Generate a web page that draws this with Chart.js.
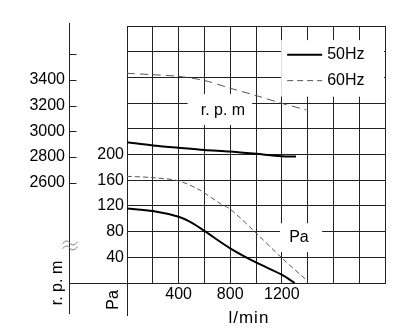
<!DOCTYPE html>
<html><head><meta charset="utf-8">
<script src="https://cdn.jsdelivr.net/npm/chart.js@4.4.0/dist/chart.umd.min.js"></script>
<style>html,body{margin:0;padding:0;background:#fff;}#wrap{width:400px;height:336px;position:relative;}canvas{display:block;}</style>
</head><body><div id="wrap"><canvas id="c" width="400" height="336" style="width:400px;height:336px"></canvas></div>
<script>
// ---- data ----
const flowTicks = [0,200,400,600,800,1000,1200,1400,1600,1800,2000];
const flowLabels = [400,800,1200];
const paTicks = [0,40,80,120,160,200,240,280,320,360,400];
const paLabels = [40,80,120,160,200];
const rpmTicks = [2600,2800,3000,3200,3400,3600];
const rpmLabels = [2600,2800,3000,3200,3400];
const seriesNames = ['50Hz','60Hz'];

const paFlow50 = [0,200,400,500,600,800,1000,1200,1300];
const pa50     = [116,112,103,94,81,54,32,13,0];
const paFlow60 = [0,200,400,560,720,800,1000,1200,1400];
const pa60     = [166,164,159,145,124,115,78,39,3];
const rpmFlow50 = [0,200,400,600,800,1000,1200,1310];
const rpm50     = [2915,2890,2872,2855,2843,2825,2806,2804];
const rpmFlow60 = [0,200,400,600,800,1000,1200,1390];
const rpm60     = [3452,3441,3428,3396,3336,3279,3218,3167];

const FONT = '"Liberation Sans", Arial, sans-serif';
const pts = (xs, ys) => xs.map((x,i)=>({x:x, y:ys[i]}));

const deco = {
  id:'deco',
  beforeDatasetsDraw(chart){
    const ctx = chart.ctx, xs = chart.scales.x, ys = chart.scales.pa, ca = chart.chartArea;
    ctx.save();
    ctx.fillStyle = '#fff';
    const lx = xs.getPixelForValue(1195), ly = ys.getPixelForValue(378), lb = ys.getPixelForValue(290);
    ctx.fillRect(lx, ly, ca.right - 1 - lx, lb - ly);
    const rx0 = xs.getPixelForValue(470), rx1 = xs.getPixelForValue(970);
    const ry0 = ys.getPixelForValue(294), ry1 = ys.getPixelForValue(246);
    ctx.fillRect(rx0, ry0, rx1-rx0, ry1-ry0);
    const px0 = xs.getPixelForValue(1186), px1 = xs.getPixelForValue(1512);
    const py0 = ys.getPixelForValue(93), py1 = ys.getPixelForValue(48);
    ctx.fillRect(px0, py0, px1-px0, py1-py0);
    ctx.restore();
  },
  afterDatasetsDraw(chart){
    const ctx = chart.ctx, xs = chart.scales.x, ys = chart.scales.pa, rs = chart.scales.rpm, ca = chart.chartArea;
    ctx.save();
    ctx.strokeStyle = '#222'; ctx.lineWidth = 1;
    const ax = Math.round(rs.right) + 0.5;
    const pl = Math.round(ca.left) + 0.5;
    const bt = Math.round(ca.bottom) + 0.5;
    ctx.beginPath();
    ctx.moveTo(ax, ca.top - 3); ctx.lineTo(ax, ca.bottom + 31);
    rpmTicks.forEach(v=>{ const y = Math.round(rs.getPixelForValue(v))+0.5; ctx.moveTo(ax, y); ctx.lineTo(ax+7, y); });
    ctx.moveTo(ax, bt); ctx.lineTo(pl, bt);
    ctx.moveTo(pl, ca.bottom); ctx.lineTo(pl, ca.bottom + 33);
    ctx.stroke();
    // break mark
    ctx.strokeStyle = '#777'; ctx.lineWidth = 1;
    const by = ys.getPixelForValue(58);
    [by-3, by+2].forEach(yy=>{
      ctx.beginPath();
      ctx.moveTo(ax-7, yy+1);
      ctx.bezierCurveTo(ax-4, yy-3, ax-1, yy-2, ax, yy);
      ctx.bezierCurveTo(ax+2, yy+3, ax+5, yy+3, ax+8, yy-1);
      ctx.stroke();
    });
    // legend
    const lx = xs.getPixelForValue(1195), ly = ys.getPixelForValue(378);
    ctx.strokeStyle = '#000'; ctx.lineWidth = 2; ctx.setLineDash([]);
    ctx.beginPath(); ctx.moveTo(lx+6, ly+14.5); ctx.lineTo(lx+41, ly+14.5); ctx.stroke();
    ctx.strokeStyle = '#555'; ctx.lineWidth = 1; ctx.setLineDash([6,4]);
    ctx.beginPath(); ctx.moveTo(lx+6, ly+40.5); ctx.lineTo(lx+41, ly+40.5); ctx.stroke();
    ctx.setLineDash([]);
    ctx.fillStyle = '#000'; ctx.font = '16px ' + FONT; ctx.textBaseline = 'middle'; ctx.textAlign = 'left';
    ctx.fillText(seriesNames[0], lx+46, ly+14.5);
    ctx.fillText(seriesNames[1], lx+46, ly+40.5);
    ctx.textAlign = 'center';
    ctx.fillText('r. p. m', xs.getPixelForValue(744), ys.getPixelForValue(269));
    ctx.fillText('Pa', xs.getPixelForValue(1333), ys.getPixelForValue(70));
    ctx.save();
    ctx.translate(ax - 11.5, ca.bottom); ctx.rotate(-Math.PI/2);
    ctx.fillText('r. p. m', 0, 0);
    ctx.restore();
    ctx.save();
    ctx.translate(pl - 14, ca.bottom + 17); ctx.rotate(-Math.PI/2);
    ctx.fillText('Pa', 0, 0);
    ctx.restore();
    ctx.font = '17px ' + FONT;
    ctx.letterSpacing = '1px';
    ctx.fillText('l/min', xs.getPixelForValue(945), ca.bottom + 35);
    ctx.restore();
  }
};

new Chart(document.getElementById('c'), {
  type: 'scatter',
  data: {
    datasets: [
      {label: seriesNames[0]+' rpm', yAxisID:'rpm', data: pts(rpmFlow50, rpm50), showLine:true, borderColor:'#000', borderWidth:2, pointRadius:0, tension:0.3},
      {label: seriesNames[1]+' rpm', yAxisID:'rpm', data: pts(rpmFlow60, rpm60), showLine:true, borderColor:'#555', borderWidth:1, borderDash:[8,5], pointRadius:0, tension:0.3},
      {label: seriesNames[0]+' Pa', yAxisID:'pa', data: pts(paFlow50, pa50), showLine:true, borderColor:'#000', borderWidth:2, pointRadius:0, tension:0.3},
      {label: seriesNames[1]+' Pa', yAxisID:'pa', data: pts(paFlow60, pa60), showLine:true, borderColor:'#555', borderWidth:1, borderDash:[5,3], pointRadius:0, tension:0.3}
    ]
  },
  options: {
    responsive: false,
    animation: false,
    devicePixelRatio: 1,
    layout: {padding: {top:26, right:15, left:0, bottom:0}},
    plugins: {legend:{display:false}, tooltip:{enabled:false}, title:{display:false}},
    scales: {
      x: {
        type:'linear', min:0, max:2000,
        afterBuildTicks: s => { s.ticks = flowTicks.map(v=>({value:v})); },
        afterFit: s => { s.height = 53; },
        ticks: {autoSkip:false, maxRotation:0, padding:2, color:'#000', font:{size:16, family:FONT},
          callback: v => flowLabels.includes(v) ? String(v) : ''},
        grid: {color:'#222', lineWidth:1, drawTicks:false},
        border: {color:'#222'}
      },
      pa: {
        type:'linear', position:'left', min:0, max:400, weight:0,
        afterBuildTicks: s => { s.ticks = paTicks.map(v=>({value:v})); },
        afterFit: s => { s.width = 58; },
        ticks: {autoSkip:false, padding:3, color:'#000', font:{size:16, family:FONT},
          callback: v => paLabels.includes(v) ? String(v) : ''},
        grid: {color:'#222', lineWidth:1, drawTicks:false},
        border: {color:'#222'}
      },
      rpm: {
        type:'linear', position:'left', min:1820, max:3820, weight:1,
        afterBuildTicks: s => { s.ticks = rpmTicks.map(v=>({value:v})); },
        afterFit: s => { s.width = 69; },
        ticks: {autoSkip:false, padding:4, color:'#000', font:{size:16, family:FONT},
          callback: v => rpmLabels.includes(v) ? String(v) : ''},
        grid: {display:false, drawTicks:false, drawOnChartArea:false},
        border: {display:false}
      }
    }
  },
  plugins: [deco]
});
</script>
</body></html>
